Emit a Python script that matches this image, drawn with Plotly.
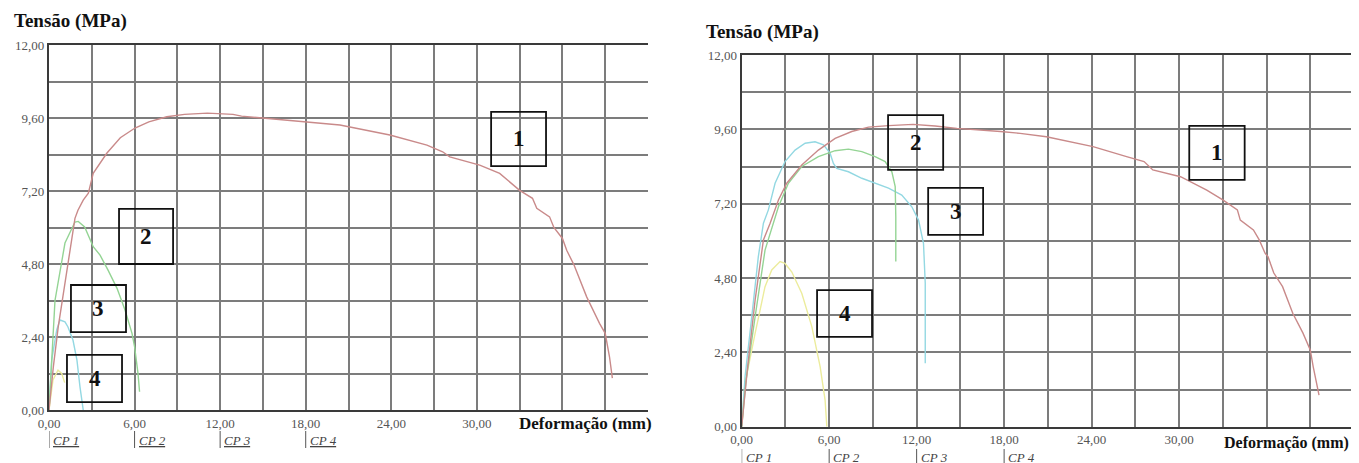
import plotly.graph_objects as go

# ---------------- data ----------------
# Left panel
a_cp1_x = [0, 0.3, 0.65, 1.12, 1.47, 1.82, 2.03, 2.4, 2.76, 3.1, 4.05, 5.0, 6.03, 7.0, 8.26, 9.5, 11.1, 12.9,
           13.5, 15.0, 17.1, 20.4, 23.9, 26.5, 27.6, 28.1, 30.2, 31.6, 33.0, 33.9, 34.2, 35.1, 35.4, 36.0, 36.3,
           36.8, 37.7, 38.6, 39.0, 39.3, 39.5]
a_cp1_y = [0, 1.4, 2.74, 4.17, 5.26, 6.3, 6.57, 6.9, 7.13, 7.78, 8.44, 8.95, 9.27, 9.47, 9.64, 9.72, 9.76, 9.72,
           9.66, 9.59, 9.51, 9.37, 9.04, 8.71, 8.49, 8.32, 8.05, 7.78, 7.22, 6.96, 6.63, 6.35, 6.0, 5.64, 5.25,
           4.78, 3.72, 2.85, 2.52, 1.75, 1.05]
a_cp2_x = [0, 0.42, 1.12, 1.82, 2.05, 2.5, 3.1, 3.58, 4.14, 4.77, 5.33, 5.82, 6.0, 6.24, 6.35]
a_cp2_y = [0, 3.6, 5.49, 6.18, 6.2, 6.02, 5.37, 5.09, 4.6, 4.0, 3.29, 2.52, 2.08, 1.21, 0.6]
a_cp3_x = [0, 0.19, 0.54, 0.77, 1.12, 1.33, 1.68, 1.96, 2.17, 2.4]
a_cp3_y = [0, 1.64, 2.63, 2.96, 2.9, 2.73, 2.3, 1.64, 0.77, 0]
a_cp4_x = [0, 0.28, 0.63, 0.89, 1.1]
a_cp4_y = [0, 0.99, 1.31, 1.2, 0.9]

# Right panel
b_cp1_x = [0, 0.4, 0.92, 1.49, 1.95, 2.52, 3.09, 4.12, 5.26, 6.41, 7.55, 8.7, 10.07, 11.75, 13.27, 14.76, 17.75,
           19.1, 20.9, 24.1, 26.4, 27.6, 28.2, 30.1, 31.9, 33.0, 34.0, 34.2, 35.1, 35.5, 35.9, 36.1, 36.5, 37.1,
           37.8, 38.5, 39.0, 39.2, 39.6]
b_cp1_y = [0, 1.9, 4.09, 6.03, 6.57, 7.32, 7.86, 8.45, 8.93, 9.31, 9.53, 9.67, 9.72, 9.76, 9.71, 9.63, 9.53,
           9.47, 9.36, 9.04, 8.72, 8.56, 8.29, 8.07, 7.64, 7.32, 7.0, 6.67, 6.35, 6.03, 5.6, 5.49, 4.96, 4.52,
           3.66, 3.02, 2.48, 1.94, 1.02]
b_cp2_x = [0, 0.3, 0.92, 1.6, 2.52, 3.2, 4.12, 5.26, 6.41, 7.32, 8.24, 9.15, 9.84, 10.3, 10.53, 10.57, 10.57]
b_cp2_y = [0, 1.5, 3.55, 5.7, 7.1, 7.86, 8.4, 8.72, 8.91, 8.96, 8.88, 8.72, 8.56, 8.23, 7.75, 6.78, 5.33]
b_cp3_x = [0, 0.23, 0.69, 1.14, 1.49, 1.83, 2.29, 2.97, 3.66, 4.35, 5.03, 5.61, 6.06, 6.29, 6.52, 7.32, 8.24,
           9.15, 10.07, 10.98, 11.67, 12.13, 12.47, 12.59, 12.59]
b_cp3_y = [0, 1.61, 3.55, 5.49, 6.57, 7.0, 7.86, 8.56, 8.93, 9.15, 9.2, 9.1, 8.83, 8.5, 8.34, 8.23, 8.02,
           7.86, 7.7, 7.48, 7.1, 6.67, 5.92, 4.63, 2.05]
b_cp4_x = [0, 0.23, 0.92, 1.6, 2.06, 2.63, 2.97, 3.43, 4.12, 4.81, 5.38, 5.72, 5.84]
b_cp4_y = [0, 1.4, 3.01, 4.52, 5.06, 5.33, 5.27, 5.0, 4.31, 3.23, 1.94, 0.86, 0]

x_grid = [0, 3, 6, 9, 12, 15, 18, 21, 24, 27, 30, 33, 36, 39, 42]
x_labels = ["0,00", "", "6,00", "", "12,00", "", "18,00", "", "24,00", "", "30,00", "", "", "", ""]
y_grid = [0, 1.2, 2.4, 3.6, 4.8, 6.0, 7.2, 8.4, 9.6, 10.8, 12.0]
y_labels = ["0,00", "", "2,40", "", "4,80", "", "7,20", "", "9,60", "", "12,00"]

cp_names = ["CP 1", "CP 2", "CP 3", "CP 4"]
cp_pos = [0, 6, 12, 18]

# label boxes: (text, x0, x1, y0, y1)
a_boxes = [("1", 31.0, 34.85, 8.02, 9.80), ("2", 4.91, 8.70, 4.80, 6.61),
           ("3", 1.54, 5.40, 2.56, 4.11), ("4", 1.26, 5.12, 0.26, 1.81)]
b_boxes = [("1", 30.7, 34.5, 7.97, 9.71), ("2", 10.04, 13.82, 8.29, 10.06),
           ("3", 12.79, 16.56, 6.19, 7.71), ("4", 5.17, 8.94, 2.90, 4.41)]

colors = ["#c98a8a", "#94d494", "#93d8e2", "#ecec9c"]

W, H = 1359, 463
OFF = 8  # page body margin in the browser
SERIF = "Liberation Serif"

fig = go.Figure()

panels = [
    ("x", "y", [(a_cp1_x, a_cp1_y), (a_cp2_x, a_cp2_y), (a_cp3_x, a_cp3_y), (a_cp4_x, a_cp4_y)]),
    ("x2", "y2", [(b_cp1_x, b_cp1_y), (b_cp2_x, b_cp2_y), (b_cp3_x, b_cp3_y), (b_cp4_x, b_cp4_y)]),
]
for xa, ya, curves in panels:
    for i in [3, 2, 1, 0]:
        cx, cy = curves[i]
        fig.add_trace(go.Scatter(x=cx, y=cy, mode="lines", xaxis=xa, yaxis=ya,
                                 line=dict(color=colors[i], width=1.4), showlegend=False,
                                 hoverinfo="skip"))

def px_x(p):
    return (p - OFF) / W

def px_y(p):
    return (H - (p - OFF)) / H

axis_common = dict(showgrid=True, gridcolor="#7c7c7c", gridwidth=1.8, zeroline=False,
                   showline=True, linecolor="#3a3a3a", linewidth=2.2, ticks="", automargin=False,
                   tickfont=dict(family=SERIF, size=13, color="#555"))

fig.update_layout(
    width=W, height=H, margin=dict(l=0, r=0, t=0, b=0, autoexpand=False),
    paper_bgcolor="white", plot_bgcolor="white", showlegend=False,
    xaxis=dict(domain=[px_x(49), px_x(648)], range=[0, 42], tickvals=x_grid, ticktext=x_labels,
               anchor="y", mirror=True, **axis_common),
    yaxis=dict(domain=[px_y(410), px_y(45)], range=[0, 12], tickvals=y_grid, ticktext=y_labels,
               anchor="x", **axis_common),
    xaxis2=dict(domain=[px_x(741.7), px_x(1354)], range=[0, 42], tickvals=x_grid, ticktext=x_labels,
                anchor="y2", mirror=True, **axis_common),
    yaxis2=dict(domain=[px_y(426.7), px_y(55)], range=[0, 12], tickvals=y_grid, ticktext=y_labels,
                anchor="x2", **axis_common),
)

ann = []
shapes = []

# axis titles
for tx, ty in [(12, 21), (704, 32)]:
    ann.append(dict(text="<b>Tensão (MPa)</b>", xref="paper", yref="paper", x=px_x(tx), y=px_y(ty),
                    xanchor="left", yanchor="middle", showarrow=False,
                    font=dict(family=SERIF, size=19, color="#111")))
for tx, ty, fs in [(517, 423, 17), (1222, 443, 16)]:
    ann.append(dict(text="<b>Deformação (mm)</b>", xref="paper", yref="paper", x=px_x(tx), y=px_y(ty),
                    xanchor="left", yanchor="middle", showarrow=False,
                    font=dict(family=SERIF, size=fs, color="#111")))

# CP markers
for xa, ty, b0, b1 in [("x", 440, 448, 431), ("x2", 457, 463, 449)]:
    for name, pos in zip(cp_names, cp_pos):
        ann.append(dict(text="<i><u>" + name + "</u></i>", xref=xa, yref="paper", x=pos, y=px_y(ty),
                        xanchor="left", yanchor="middle", xshift=2, showarrow=False,
                        font=dict(family=SERIF, size=13, color="#444")))
        shapes.append(dict(type="line", xref=xa, yref="paper", x0=pos, x1=pos, y0=px_y(b0), y1=px_y(b1),
                           line=dict(color="#555", width=1)))

# numbered boxes
for xa, ya, boxes in [("x", "y", a_boxes), ("x2", "y2", b_boxes)]:
    for t, x0, x1, y0, y1 in boxes:
        shapes.append(dict(type="rect", xref=xa, yref=ya, x0=x0, x1=x1, y0=y0, y1=y1,
                           line=dict(color="#111", width=1.8), fillcolor="rgba(255,255,255,0)",
                           layer="above"))
        ann.append(dict(text="<b>" + t + "</b>", xref=xa, yref=ya, x=(x0 + x1) / 2, y=(y0 + y1) / 2,
                        showarrow=False, xanchor="center", yanchor="middle",
                        font=dict(family=SERIF, size=23, color="#111")))

fig.update_layout(annotations=ann, shapes=shapes)
fig.write_html("out.html")
